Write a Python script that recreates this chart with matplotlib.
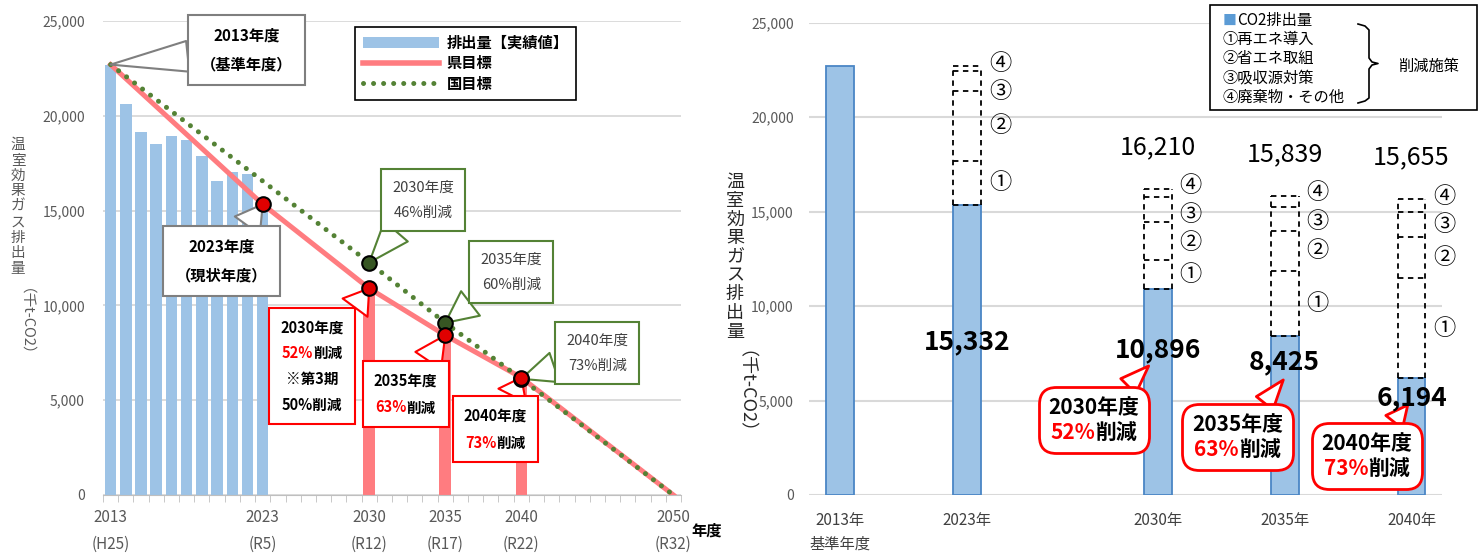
#!/bin/env python3

import matplotlib as mpl
import matplotlib.pyplot as plt
import numpy as np
from matplotlib.lines import Line2D
from matplotlib.patches import Patch, Rectangle
from matplotlib.offsetbox import TextArea, HPacker, VPacker, AnnotationBbox

mpl.use('Agg')
plt.rcParams['font.family'] = ['Noto Sans CJK JP', 'DejaVu Sans']

# left chart: emissions (thousand t-CO2)
actual_years = [2013, 2014, 2015, 2016, 2017, 2018, 2019, 2020, 2021, 2022, 2023]
actual_emis = [22700, 20600, 19150, 18500, 18950, 18750, 17900, 16550, 17050, 16950, 15332]
pref_years = [2013, 2023, 2030, 2035, 2040, 2050]
pref_target = [22700, 15332, 10896, 8425, 6194, 0]
nat_years = [2013, 2030, 2035, 2040, 2050]
nat_target = [22700, 12258, 9080, 6129, 0]
milestone_years = [2030, 2035, 2040]
tick_years = [2013, 2023, 2030, 2035, 2040, 2050]
tick_eras = ['H25', 'R5', 'R12', 'R17', 'R22', 'R32']

# right chart: CO2 emissions and reduction measures (2023, 2030, 2035, 2040)
bar_labels = ['2013年\n基準年度', '2023年', '2030年', '2035年', '2040年']
co2 = [22700, 15332, 10896, 8425, 6194]
renewables = [2370, 1540, 3450, 5290]      # ①
energy_saving = [3690, 2000, 2100, 2180]   # ②
sinks = [1070, 1320, 1290, 1340]           # ③
waste_other = [240, 454, 574, 651]         # ④
measure_marks = ['①', '②', '③', '④']

W, H = 1478, 557
BLUE = '#9DC3E6'
BLUE_EDGE = '#4A86C5'
PINK = '#FF7C80'
GREEN = '#548235'
GRID = '#D9D9D9'
GRAY = '#595959'
RED = '#FF0000'
DASH = (0, (3, 2.5))


def fpos(x, y):
    # pixel position in the reference -> figure fraction
    return x / W, 1 - y / H


def callout(ax, xy, xybox, lines, ec, size, weight='bold', sep=7, pad=0.9,
            rounded=False, tail=1.6, lw=1.5, color='black'):
    rows = []
    for line in lines:
        parts = [TextArea(t, textprops=dict(color=c or color, fontsize=size, fontweight=weight))
                 for t, c in line]
        rows.append(HPacker(children=parts, align='baseline', pad=0, sep=0))
    box = VPacker(children=rows, align='center', pad=0, sep=sep)
    if rounded:
        style = f'round,pad={pad},rounding_size=1.2'
    else:
        style = f'square,pad={pad}'
    ab = AnnotationBbox(box, xy, xybox=xybox, xycoords='data', boxcoords='data',
                        fontsize=10, annotation_clip=False,
                        bboxprops=dict(boxstyle=style, ec=ec, fc='white', lw=lw),
                        arrowprops=dict(arrowstyle=f'wedge,tail_width={tail}', fc='white',
                                        ec=ec, lw=lw, shrinkA=0, shrinkB=0),
                        zorder=7)
    ax.add_artist(ab)
    ab.set_clip_on(False)


def vertical_label(x, top, step, chars, paren, paren_top, size, color):
    for i, ch in enumerate(chars):
        fig.text(*fpos(x, top + i * step), ch, fontsize=size, color=color,
                 ha='center', va='center')
    fig.text(*fpos(x, paren_top), paren, fontsize=size, color=color,
             rotation=-90, ha='center', va='top')


fig = plt.figure(figsize=(W / 100, H / 100), dpi=100)

# ---------------- left chart ----------------
ax1 = fig.add_axes([103 / W, 1 - 495 / H, (681 - 103) / W, (495 - 21) / H])
pref_val = dict(zip(pref_years, pref_target))
nat_val = dict(zip(nat_years, nat_target))

ax1.bar(actual_years, actual_emis, width=0.76, color=BLUE, zorder=2)
ax1.bar(milestone_years, [pref_val[y] for y in milestone_years], width=0.76, color=PINK, zorder=2)
ax1.plot(pref_years, pref_target, color=PINK, lw=3.6, zorder=3)
ax1.plot(nat_years, nat_target, color=GREEN, lw=3.6, ls=(0, (0.01, 2.0)),
         dash_capstyle='round', zorder=4)
ax1.plot(milestone_years, [nat_val[y] for y in milestone_years], 'o', ms=10.5,
         mfc='#375623', mec='black', mew=1.5, zorder=8)
red_pts = [2023] + milestone_years
ax1.plot(red_pts, [pref_val[y] for y in red_pts], 'o', ms=10.5,
         mfc='#E00000', mec='black', mew=1.5, zorder=8)

ax1.set_xlim(2012.5, 2050.5)
ax1.set_ylim(0, 25000)
ax1.set_yticks(range(0, 25001, 5000))
ax1.set_yticklabels([f'{v:,}' for v in range(0, 25001, 5000)])
ax1.yaxis.grid(True, color=GRID, lw=1.3)
ax1.set_axisbelow(True)
for s in ['top', 'left', 'right']:
    ax1.spines[s].set_visible(False)
ax1.spines['bottom'].set_color('#BFBFBF')
ax1.tick_params(axis='y', length=0, pad=13, labelsize=10, labelcolor=GRAY)
ax1.set_xticks(tick_years)
ax1.set_xticklabels([f'{y}\n({e})' for y, e in zip(tick_years, tick_eras)])
ax1.set_xticks(np.arange(2012.5, 2051, 1), minor=True)
ax1.tick_params(axis='x', which='major', length=0, pad=10, labelsize=11, labelcolor=GRAY)
ax1.tick_params(axis='x', which='minor', length=5, color='#BFBFBF')
for lbl in ax1.get_xticklabels():
    lbl.set_linespacing(1.75)
fig.text(*fpos(707, 531), '年度', fontsize=11, fontweight='bold', ha='center', va='center')

handles = [Patch(fc=BLUE),
           Line2D([], [], color=PINK, lw=4),
           Line2D([], [], color=GREEN, lw=3.6, ls=(0, (0.01, 2.0)), dash_capstyle='round')]
leg = ax1.legend(handles, ['排出量【実績値】', '県目標', '国目標'], loc='upper left',
                 bbox_to_anchor=(0.436, 0.987), borderaxespad=0, frameon=True,
                 fancybox=False, edgecolor='black', framealpha=1,
                 prop=dict(weight='bold', size=11), handlelength=5, handleheight=0.8,
                 labelspacing=0.3, borderpad=0.5, handletextpad=0.5)
leg.get_frame().set_linewidth(1.2)
leg.set_zorder(9)

K = 'black'
callout(ax1, (2013, pref_val[2013]), (2021.95, 23470),
        [[('2013年度', K)], [('（基準年度）', K)]], '#7F7F7F', 11, sep=9)
callout(ax1, (2023, pref_val[2023]), (2020.3, 12340),
        [[('2023年度', K)], [('（現状年度）', K)]], '#7F7F7F', 11, sep=9)
callout(ax1, (2030, nat_val[2030]), (2033.55, 15560),
        [[('2030年度', None)], [('46%削減', None)]], GREEN, 10.5, weight='normal',
        sep=8, pad=0.8, color='#404040')
callout(ax1, (2035, nat_val[2035]), (2039.35, 11760),
        [[('2035年度', None)], [('60%削減', None)]], GREEN, 10.5, weight='normal',
        sep=8, pad=0.8, color='#404040')
callout(ax1, (2040, nat_val[2040]), (2045.0, 7490),
        [[('2040年度', None)], [('73%削減', None)]], GREEN, 10.5, weight='normal',
        sep=8, pad=0.8, color='#404040')
callout(ax1, (2030, pref_val[2030]), (2026.25, 6800),
        [[('2030年度', K)], [('52%', RED), ('削減', K)], [('※第3期', K)], [('50%削減', K)]],
        RED, 10.5, sep=7, pad=0.8)
callout(ax1, (2035, pref_val[2035]), (2032.4, 5330),
        [[('2035年度', K)], [('63%', RED), ('削減', K)]], RED, 10.5, sep=8, pad=0.8)
callout(ax1, (2040, pref_val[2040]), (2038.3, 3480),
        [[('2040年度', K)], [('73%', RED), ('削減', K)]], RED, 10.5, sep=8, pad=0.8)

vertical_label(18, 145, 15.5, '温室効果ガス排出量', '（千t-CO2）', 288, 10.5, GRAY)

# ---------------- right chart ----------------
ax2 = fig.add_axes([809 / W, 1 - 495 / H, (1442 - 809) / W, (495 - 22.7) / H])
xpos = [0, 1, 2.5, 3.5, 4.5]
bw = 0.22

ax2.bar(xpos, co2, width=bw, color=BLUE, edgecolor=BLUE_EDGE, lw=1.3, zorder=2)

# dashed stacks of the reduction measures on top of each bar
xs = np.array(xpos[1:], dtype=float)
bottom = np.array(co2[1:], dtype=float)
seg_mid = []
ax2.hlines(bottom, xs - bw / 2, xs + bw / 2, color='black', ls=DASH, lw=1.3, zorder=3)
for seg in [renewables, energy_saving, sinks, waste_other]:
    seg_mid.append(bottom + np.array(seg) / 2)
    bottom = bottom + np.array(seg)
    ax2.hlines(bottom, xs - bw / 2, xs + bw / 2, color='black', ls=DASH, lw=1.3, zorder=3)
totals = bottom
for side in (-1, 1):
    ax2.vlines(xs + side * bw / 2, co2[1:], totals, color='black', ls=DASH, lw=1.3, zorder=3)

# circled labels: top-down, keep them at least 1500 apart
for i, x in enumerate(xs):
    y = totals[i] + 150
    for k in (3, 2, 1, 0):
        if k < 3:
            y = min(seg_mid[k][i], y - 1500)
        ax2.text(x + 0.26, y, measure_marks[k], fontsize=16, ha='center', va='center',
                 zorder=6)

for i, x in enumerate(xpos[2:]):
    ax2.text(x, totals[i + 1] + 2200, f'{int(round(totals[i + 1])):,}', fontsize=18,
             ha='center', va='center')

value_label_y = [8100, 7700, 7050, 5150]
for x, v, ly in zip(xpos[1:], co2[1:], value_label_y):
    ax2.text(x, ly, f'{v:,}', fontsize=19, fontweight='bold', ha='center', va='center',
             zorder=9)

callout(ax2, (2.43, 6830), (2.0, 3970),
        [[('2030年度', K)], [('52%', RED), ('削減', K)]], RED, 15, sep=3, pad=0.7,
        rounded=True, tail=1.1, lw=2)
callout(ax2, (3.49, 6090), (3.13, 3070),
        [[('2035年度', K)], [('63%', RED), ('削減', K)]], RED, 15, sep=3, pad=0.7,
        rounded=True, tail=1.1, lw=2)
callout(ax2, (4.47, 4760), (4.15, 2070),
        [[('2040年度', K)], [('73%', RED), ('削減', K)]], RED, 15, sep=3, pad=0.7,
        rounded=True, tail=1.1, lw=2)

ax2.set_xlim(-0.245, 4.74)
ax2.set_ylim(0, 25000)
ax2.set_yticks(range(0, 25001, 5000))
ax2.set_yticklabels([f'{v:,}' for v in range(0, 25001, 5000)])
ax2.yaxis.grid(True, color=GRID, lw=1.5)
ax2.set_axisbelow(True)
for s in ax2.spines.values():
    s.set_visible(False)
ax2.tick_params(axis='y', length=0, pad=11, labelsize=10, labelcolor=GRAY)
ax2.set_xticks(xpos)
ax2.set_xticklabels(bar_labels)
ax2.tick_params(axis='x', length=0, pad=12, labelsize=11, labelcolor='#404040')
for lbl in ax2.get_xticklabels():
    lbl.set_linespacing(1.5)

vertical_label(735, 182, 18.75, '温室効果ガス排出量', '（千t-CO2）', 350, 13, '#262626')

# right legend
fig.patches.append(Rectangle(fpos(1210, 110), 267 / W, 105 / H, transform=fig.transFigure,
                             fc='white', ec='black', lw=1.2, figure=fig))
fig.text(*fpos(1223, 20.5), '■', fontsize=10, color='#5B9BD5', va='center')
fig.text(*fpos(1237, 20.5), 'CO2排出量', fontsize=11, va='center')
legend_lines = ['①再エネ導入', '②省エネ取組', '③吸収源対策', '④廃棄物・その他']
for i, t in enumerate(legend_lines):
    fig.text(*fpos(1222, 39.5 + i * 19.2), t, fontsize=11, va='center')
brace = [(1358, 24), (1365, 26), (1369, 30), (1369, 58), (1372, 62), (1378, 63.5),
         (1372, 65), (1369, 69), (1369, 98), (1365, 101), (1358, 103)]
bx, by = zip(*[fpos(x, y) for x, y in brace])
fig.add_artist(Line2D(bx, by, color='black', lw=1.2, transform=fig.transFigure))
fig.text(*fpos(1429, 66), '削減施策', fontsize=11, ha='center', va='center')

fig.savefig('out.png', dpi=100)
